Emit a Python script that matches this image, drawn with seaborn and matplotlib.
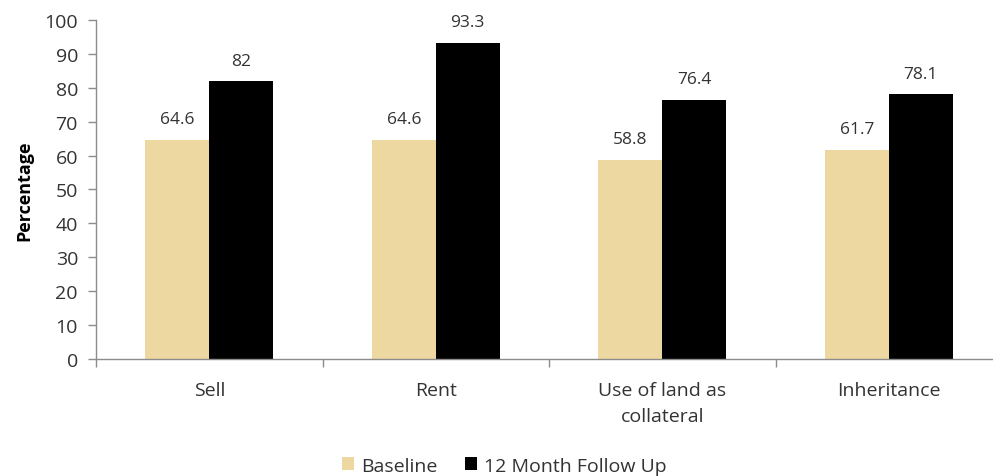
import matplotlib
matplotlib.use("Agg")
import matplotlib.pyplot as plt
import seaborn as sns
import pandas as pd
from matplotlib.patches import Patch

categories = ["Sell", "Rent", "Use of land as\ncollateral", "Inheritance"]
baseline = [64.6, 64.6, 58.8, 61.7]
followup = [82, 93.3, 76.4, 78.1]
series_names = ["Baseline", "12 Month Follow Up"]
y_ticks = [0, 10, 20, 30, 40, 50, 60, 70, 80, 90, 100]

sns.set_theme(style="white")
plt.rcParams["font.family"] = ["Open Sans", "DejaVu Sans"]

df = pd.DataFrame({
    "Category": categories * 2,
    "Series": [series_names[0]] * 4 + [series_names[1]] * 4,
    "Value": baseline + followup,
})

colors = ["#EDD8A2", "#000000"]
text_color = "#333333"

fig = plt.figure(figsize=(9.93, 4.77), dpi=100)
ax = fig.add_axes([0.0967, 0.2453, 0.9033, 0.7107])

sns.barplot(data=df, x="Category", y="Value", hue="Series", palette=colors,
            width=0.565, gap=0, ax=ax, legend=False, saturation=1,
            edgecolor="none", linewidth=0)

for container, vals in zip(ax.containers, [baseline, followup]):
    labels = [f"{v:g}" for v in vals]
    ax.bar_label(container, labels=labels, padding=9, fontsize=12.5,
                 color=text_color)

ax.set_ylim(0, 100)
ax.set_yticks(y_ticks)
ax.set_xlim(-0.5, 3.46)
ax.set_xlabel("")
ax.set_ylabel("Percentage", fontsize=13, fontweight="bold", color="black",
              labelpad=8)

for s in ["top", "right"]:
    ax.spines[s].set_visible(False)
for s in ["left", "bottom"]:
    ax.spines[s].set_color("#8c8c8c")
    ax.spines[s].set_linewidth(1.0)

ax.tick_params(axis="y", which="both", left=True, length=6, width=1,
               color="#8c8c8c", labelsize=14, labelcolor=text_color, pad=7)
ax.tick_params(axis="x", which="major", bottom=False, labelsize=14,
               labelcolor=text_color, pad=10)
for lbl in ax.get_xticklabels():
    lbl.set_linespacing(1.55)
ax.set_xticks([-0.5, 0.5, 1.5, 2.5], minor=True)
ax.tick_params(axis="x", which="minor", bottom=True, length=6, width=1,
               color="#8c8c8c", direction="out")
ax.grid(False)

handles = [Patch(facecolor=colors[0], edgecolor="none"),
           Patch(facecolor=colors[1], edgecolor="none")]
fig.legend(handles, series_names, loc="center", bbox_to_anchor=(0.508, 0.022),
           ncol=2, frameon=False, fontsize=14, handlelength=0.6,
           handleheight=0.6, handletextpad=0.4, columnspacing=1.4,
           labelcolor=text_color)

fig.savefig("out.png", dpi=100)
